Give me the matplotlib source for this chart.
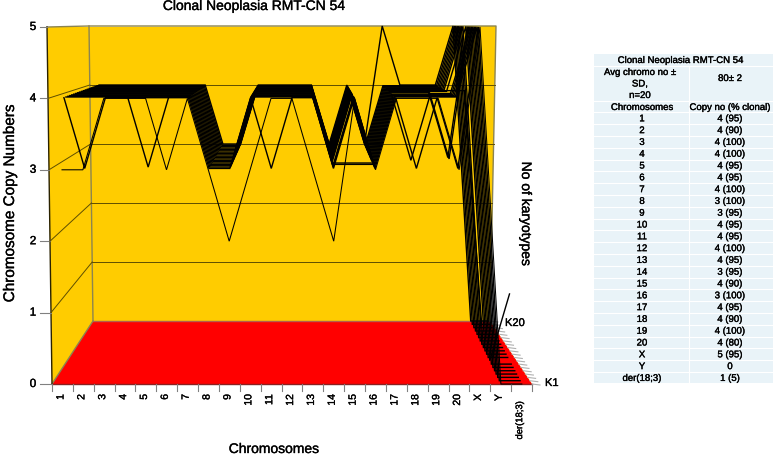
import matplotlib
matplotlib.use("Agg")
import matplotlib.pyplot as plt
import matplotlib.patheffects as pe
from matplotlib.patches import Polygon, Rectangle

plt.rcParams["font.family"] = ["Liberation Sans", "DejaVu Sans"]

TITLE = "Clonal Neoplasia RMT-CN 54"
CHROMOSOMES = ["1", "2", "3", "4", "5", "6", "7", "8", "9", "10", "11", "12", "13", "14",
               "15", "16", "17", "18", "19", "20", "X", "Y", "der(18;3)"]
COPY_LABELS = ["4 (95)", "4 (90)", "4 (100)", "4 (100)", "4 (95)", "4 (95)", "4 (100)", "3 (100)",
               "3 (95)", "4 (95)", "4 (95)", "4 (100)", "4 (95)", "3 (95)", "4 (90)", "3 (100)",
               "4 (95)", "4 (90)", "4 (100)", "4 (80)", "5 (95)", "0", "1 (5)"]

# copy number per chromosome, one list per karyotype (K1 is at the front)
K1 = [3, 3, 4, 4, 4, 3, 4, 3, 2, 3, 4, 4, 3, 2, 4, 3, 4, 4, 4, 3, 5, 0, 0]
K2 = [4, 3, 4, 4, 4, 4, 4, 3, 3, 4, 3, 4, 4, 3, 4, 3, 4, 3, 4, 3, 5, 0, 0]
K3 = [4, 4, 4, 4, 3, 4, 4, 3, 3, 4, 4, 4, 4, 3, 4, 3, 4, 4, 4, 4, 5, 0, 0]
K4 = [4, 4, 4, 4, 4, 4, 4, 3, 3, 4, 4, 4, 4, 3, 4, 3, 4, 4, 4, 4, 5, 0, 0]
K5 = [4, 4, 4, 4, 4, 4, 4, 3, 3, 4, 4, 4, 4, 3, 3, 3, 4, 4, 4, 4, 5, 0, 0]
K6 = [4, 4, 4, 4, 4, 4, 4, 3, 3, 4, 4, 4, 4, 3, 3, 3, 4, 4, 4, 4, 5, 0, 0]
K7 = [4, 4, 4, 4, 4, 4, 4, 3, 3, 4, 4, 4, 4, 3, 4, 3, 4, 4, 4, 4, 5, 0, 0]
K8 = [4, 4, 4, 4, 4, 4, 4, 3, 3, 4, 4, 4, 4, 3, 4, 3, 4, 3, 4, 4, 5, 0, 1]
K9 = [4, 4, 4, 4, 4, 4, 4, 3, 3, 4, 4, 4, 4, 3, 4, 3, 4, 4, 4, 3, 5, 0, 0]
K10 = [4, 4, 4, 4, 4, 4, 4, 3, 3, 4, 4, 4, 4, 3, 4, 3, 4, 4, 4, 3, 5, 0, 0]
K11 = [4, 4, 4, 4, 4, 4, 4, 3, 3, 4, 4, 4, 4, 3, 4, 3, 4, 4, 4, 4, 5, 0, 0]
K12 = [4, 4, 4, 4, 4, 4, 4, 3, 3, 4, 4, 4, 4, 3, 4, 3, 4, 4, 4, 4, 4, 0, 0]
K13 = [4, 4, 4, 4, 4, 4, 4, 3, 3, 4, 4, 4, 4, 3, 4, 3, 4, 4, 4, 4, 5, 0, 0]
K14 = [4, 4, 4, 4, 4, 4, 4, 3, 3, 4, 4, 4, 4, 3, 4, 3, 4, 4, 4, 4, 5, 0, 0]
K15 = [4, 4, 4, 4, 4, 4, 4, 3, 3, 4, 4, 4, 4, 3, 4, 3, 4, 4, 4, 4, 5, 0, 0]
K16 = [4, 4, 4, 4, 4, 4, 4, 3, 3, 4, 4, 4, 4, 3, 4, 3, 4, 4, 4, 4, 5, 0, 0]
K17 = [4, 4, 4, 4, 4, 4, 4, 3, 3, 4, 4, 4, 4, 3, 4, 3, 4, 4, 4, 4, 5, 0, 0]
K18 = [4, 4, 4, 4, 4, 4, 4, 3, 3, 4, 4, 4, 4, 3, 4, 3, 4, 4, 4, 4, 5, 0, 0]
K19 = [4, 4, 4, 4, 4, 4, 4, 3, 3, 4, 4, 4, 4, 3, 4, 3, 4, 4, 4, 4, 5, 0, 0]
K20 = [4, 4, 4, 4, 4, 4, 4, 3, 3, 4, 4, 4, 4, 3, 4, 3, 5, 4, 4, 4, 5, 0, 0]
KARYOTYPES = [K1, K2, K3, K4, K5, K6, K7, K8, K9, K10, K11, K12, K13, K14, K15, K16, K17, K18, K19, K20]
Y_TICKS = [0, 1, 2, 3, 4, 5]

GREY = "#8c8450"
GRID = "#5e4e00"


def project(i, k, v):
    """Chromosome index, karyotype index, copy number -> pixel position in the figure."""
    d = k / 19.0
    x = (62 + 20.9 * i) * (1 - d) + (99 + 17.7 * i) * d
    y = (385 - 71.4 * v) * (1 - d) + (322 - 59.0 * v) * d
    return x, y


fig = plt.figure(figsize=(7.73, 4.56), dpi=100)
ax = fig.add_axes([0, 0, 1, 1])
ax.set_xlim(0, 773)
ax.set_ylim(456, 0)
ax.axis("off")

# walls and floor
ax.add_patch(Polygon([(47, 28), (496, 27), (490, 322), (532, 385), (52, 385)], fc="#FFCC00", ec="none", zorder=1))
ax.add_patch(Polygon([(52, 385), (93, 322), (490, 322), (532, 385)], fc="#FF0000", ec="none", zorder=2))
ax.plot([93, 490], [322, 322], color="#b4604a", lw=1, zorder=3)
ax.plot([52, 93], [385, 322], color=GREY, lw=1, zorder=3)
ax.plot([89, 93], [27, 322], color=GREY, lw=1, zorder=3)
ax.plot([47, 89, 496, 490], [28, 27, 27, 322], color=GREY, lw=1, zorder=3)
ax.plot([47, 52], [28, 385], color="#2a2200", lw=1, zorder=3)
ax.plot([52, 532], [385, 385], color="#8c2020", lw=1, zorder=3)

for v in Y_TICKS:
    yf = 385 - 71.4 * v
    yb = 322 - 59.0 * v
    xf = 52 - v
    xb = 93 - 0.8 * v
    ax.plot([40, xf], [yf, yf], color="#808080", lw=0.8, zorder=3)
    ax.text(33, yf, str(v), ha="center", va="center", fontsize=8.5, zorder=6)
    if 0 < v < 5:
        ax.plot([xf, xb], [yf, yb], color=GRID, lw=0.7, zorder=3)
        ax.plot([xb, 490 + 1.2 * v], [yb, yb], color=GRID, lw=0.7, zorder=3)

# karyotype lines, back to front; the front one looks thinner in the reference
for k in range(len(KARYOTYPES) - 1, -1, -1):
    pts = [project(i, k, v) for i, v in enumerate(KARYOTYPES[k])]
    ax.plot([p[0] for p in pts], [p[1] for p in pts], color="black", lw=0.75 if k == 0 else 1.0,
            solid_joinstyle="miter", zorder=4)

# chromosome axis
for i, name in enumerate(CHROMOSOMES):
    x = 52 + 20.87 * i
    ax.plot([x, x], [385, 392], color="#808080", lw=0.8, zorder=3)
    is_der = name.startswith("der")
    ax.text(x + 8.5, 402 if is_der else 395, name, rotation=90, ha="center", va="top",
            fontsize=6.8 if is_der else 7.5, zorder=6)
ax.plot([532, 532], [385, 392], color="#808080", lw=0.8, zorder=3)

# karyotype axis
for k in range(len(KARYOTYPES)):
    d = k / 19.0
    x = 532 * (1 - d) + 490 * d
    y = 385 * (1 - d) + 322 * d
    ax.plot([x, x + 8], [y, y + 1], color="#b0b0b0", lw=0.8, zorder=3)
ax.text(545, 384, "K1", ha="left", va="center", fontsize=8, zorder=6)
ax.text(505, 324, "K20", ha="left", va="center", fontsize=8, zorder=6)

ax.text(254, 7, TITLE, ha="center", va="center", fontsize=10)
ax.text(10, 205, "Chromosome Copy Numbers", rotation=90, ha="center", va="center", fontsize=11)
ax.text(274, 450, "Chromosomes", ha="center", va="center", fontsize=10)
ax.text(526, 215, "No of karyotypes", rotation=270, ha="center", va="center", fontsize=10)

# table on the right
TBL_L, TBL_M, TBL_R = 594, 689, 773
ROW_H = 11.8
ax.add_patch(Rectangle((TBL_L, 55), TBL_R - TBL_L, 329, fc="#e9f3f8", ec="none"))
ax.text((TBL_L + TBL_R) / 2 - 3, 61, TITLE, ha="center", va="center", fontsize=6.9)
ax.text(640, 73, "Avg chromo no \u00b1", ha="center", va="center", fontsize=6.9)
ax.text(640, 84.5, "SD,", ha="center", va="center", fontsize=6.9)
ax.text(640, 96, "n=20", ha="center", va="center", fontsize=6.9)
ax.text(730, 79, "80\u00b1 2", ha="center", va="center", fontsize=6.9)
ax.text(642, 108, "Chromosomes", ha="center", va="center", fontsize=6.9)
ax.text(730, 108, "Copy no (% clonal)", ha="center", va="center", fontsize=6.9)
ax.plot([TBL_L, TBL_R], [67, 67], color="white", lw=0.8)
ax.plot([TBL_L, TBL_R], [102, 102], color="white", lw=0.8)
ax.plot([TBL_M, TBL_M], [67, 384], color="white", lw=0.8)
for i, (name, copy) in enumerate(zip(CHROMOSOMES, COPY_LABELS)):
    y = 119.3 + ROW_H * i
    ax.plot([TBL_L, TBL_R], [y - ROW_H / 2, y - ROW_H / 2], color="white", lw=0.8)
    ax.text(642, y, name, ha="center", va="center", fontsize=6.9)
    ax.text(730, y, copy, ha="center", va="center", fontsize=6.9)

# the reference text is a bit heavier than the regular weight
for t in ax.texts:
    t.set_path_effects([pe.withStroke(linewidth=0.25, foreground="black")])

fig.savefig("out.png", dpi=100)
